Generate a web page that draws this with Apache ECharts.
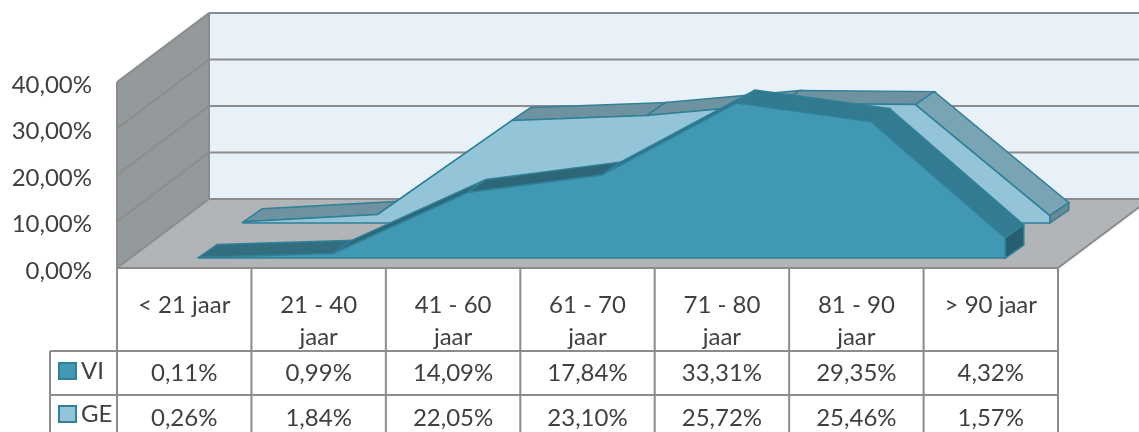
<!DOCTYPE html>
<html>
<head>
<meta charset="utf-8">
<style>
  html, body { margin: 0; padding: 0; background: #fff; }
  #chart { width: 1139px; height: 432px; }
</style>
<script src="https://cdn.jsdelivr.net/npm/echarts@6/dist/echarts.min.js"></script>
</head>
<body>
<div id="chart"></div>
<script>
// data
const categories = ['< 21 jaar', '21 - 40 jaar', '41 - 60 jaar', '61 - 70 jaar', '71 - 80 jaar', '81 - 90 jaar', '> 90 jaar']
const viValues = [0.11, 0.99, 14.09, 17.84, 33.31, 29.35, 4.32]
const geValues = [0.26, 1.84, 22.05, 23.10, 25.72, 25.46, 1.57]
const yTicks = [0, 10, 20, 30, 40]

const FONT = '24px Lato'
const TEXT_COLOR = '#404040'
const LINE_COLOR = '#8c8c8c'
const EDGE = '#2f8098'
// 3D look: every layer is the 2D grid shifted back by a fixed offset
const WALL_DEPTH = [92, -69]

function pct(v) {
  return v.toFixed(2).replace('.', ',') + '%'
}

function poly(points, fill, stroke, z2) {
  return {
    type: 'polygon',
    z2: z2 || 0,
    shape: { points: points },
    style: { fill: fill, stroke: stroke || null, lineWidth: 1.5 }
  }
}

function line(x1, y1, x2, y2, z2) {
  return {
    type: 'line',
    z2: z2 || 1,
    shape: { x1: x1, y1: y1, x2: x2, y2: y2 },
    style: { stroke: LINE_COLOR, lineWidth: 2 }
  }
}

// side wall, back wall, floor and their gridlines
function renderWalls(params, api) {
  const c = params.coordSys
  const dx = WALL_DEPTH[0], dy = WALL_DEPTH[1]
  const left = c.x, right = c.x + c.width, top = c.y, bottom = c.y + c.height
  const children = [
    poly([[left, top], [left + dx, top + dy], [left + dx, bottom + dy], [left, bottom]], '#949a9b'),
    poly([[left + dx, top + dy], [right + dx, top + dy], [right + dx, bottom + dy], [left + dx, bottom + dy]], '#e9f1f8'),
    poly([[left, bottom], [left + dx, bottom + dy], [right + dx, bottom + dy], [right, bottom]], '#b1b5b8'),
    line(left, top, left, bottom),
    line(left, bottom, right, bottom),
    line(right, bottom, right + dx, bottom + dy),
    line(left + dx, top + dy, left + dx, bottom + dy)
  ]
  yTicks.forEach(function (t) {
    const y = api.coord([0, t])[1]
    children.push(line(left, y, left + dx, y + dy))
    children.push(line(left + dx, y + dy, right + dx, y + dy))
  })
  return { type: 'group', children: children }
}

// one area ribbon: top faces per segment, end cap and the front face
function bandRenderer(values, front, back, topColors, frontColor, capColor) {
  return function (params, api) {
    const i = params.dataIndex
    const children = []
    const shift = function (p, o) { return [p[0] + o[0], p[1] + o[1]] }
    const a = api.coord([i, values[i]])
    if (i < values.length - 1) {
      const b = api.coord([i + 1, values[i + 1]])
      children.push(poly([shift(a, front), shift(a, back), shift(b, back), shift(b, front)], topColors[i], EDGE, 1))
    } else {
      const base = api.coord([i, 0])
      children.push(poly([shift(a, front), shift(a, back), shift(base, back), shift(base, front)], capColor, EDGE, 1))
      // front face goes on top of all the top faces
      const pts = values.map(function (v, k) { return shift(api.coord([k, v]), front) })
      pts.push(shift(base, front))
      pts.push(shift(api.coord([0, 0]), front))
      children.push(poly(pts, frontColor, EDGE, 2))
    }
    return { type: 'group', children: children }
  }
}

// table under the chart
function renderTable(params, api) {
  const c = params.coordSys
  const i = params.dataIndex
  const step = c.width / categories.length
  const rows = [351, 395, 439]
  const children = [
    { type: 'text', z2: 3, style: { text: pct(viValues[i]), x: api.coord([i, 0])[0], y: 373, align: 'center', verticalAlign: 'middle', font: FONT, fill: TEXT_COLOR } },
    { type: 'text', z2: 3, style: { text: pct(geValues[i]), x: api.coord([i, 0])[0], y: 418, align: 'center', verticalAlign: 'middle', font: FONT, fill: TEXT_COLOR } },
    line(c.x + step * (i + 1), c.y + c.height, c.x + step * (i + 1), 432)
  ]
  if (i === 0) {
    children.push(line(c.x, c.y + c.height, c.x, 432))
    children.push(line(50, rows[0], 50, 432))
    rows.forEach(function (y) {
      children.push(line(50, y, c.x + c.width, y))
    })
  }
  return { type: 'group', children: children }
}

const myChart = echarts.init(document.getElementById('chart'))
const option = {
  animation: false,
  grid: { left: 117, top: 82, width: 941, height: 186 },
  legend: {
    left: 53,
    top: 354,
    orient: 'vertical',
    itemWidth: 17,
    itemHeight: 16,
    itemGap: 19,
    icon: 'rect',
    selectedMode: false,
    data: ['VI', 'GE'],
    textStyle: { fontFamily: 'Lato', fontSize: 24, color: TEXT_COLOR }
  },
  xAxis: {
    type: 'category',
    data: categories,
    axisLine: { show: false },
    axisTick: { show: false },
    axisLabel: {
      interval: 0,
      margin: 21,
      fontFamily: 'Lato',
      fontSize: 24,
      lineHeight: 32,
      color: TEXT_COLOR,
      formatter: function (v) { return v.charAt(0) === '<' || v.charAt(0) === '>' ? v : v.replace(' jaar', '\njaar') }
    }
  },
  yAxis: {
    type: 'value',
    min: 0,
    max: 40,
    interval: 10,
    splitLine: { show: false },
    axisLine: { show: false },
    axisTick: { show: false },
    axisLabel: {
      margin: 25,
      color: TEXT_COLOR,
      formatter: function (v) { return '{t|' + pct(v) + '}' },
      rich: {
        t: { fontFamily: 'Lato', fontSize: 24, color: TEXT_COLOR, padding: [6, 0, 0, 0] }
      }
    }
  },
  series: [
    {
      type: 'custom',
      name: 'walls',
      z: 1,
      renderItem: renderWalls,
      data: [[0, 0]]
    },
    {
      type: 'custom',
      name: 'GE',
      z: 2,
      itemStyle: { color: '#93c4d8', borderColor: EDGE, borderWidth: 2 },
      renderItem: bandRenderer(geValues, [59, -45], [78, -58],
        ['#6e929f', '#76a0b0', '#6e929f', '#6e929f', '#6e929f', '#79a4b4'], '#93c4d8', '#6b8a96'),
      data: geValues.map(function (v, i) { return [i, v] })
    },
    {
      type: 'custom',
      name: 'VI',
      z: 3,
      itemStyle: { color: '#4198b3', borderColor: EDGE, borderWidth: 2 },
      renderItem: bandRenderer(viValues, [14.5, -10], [33, -23],
        ['#326e80', '#2e6679', '#2e6679', '#2f7288', '#317a90', '#337b92'], '#4198b3', '#275f70'),
      data: viValues.map(function (v, i) { return [i, v] })
    },
    {
      type: 'custom',
      name: 'table',
      z: 4,
      renderItem: renderTable,
      data: categories.map(function (v, i) { return [i, 0] })
    }
  ]
}
myChart.setOption(option)
</script>
</body>
</html>
